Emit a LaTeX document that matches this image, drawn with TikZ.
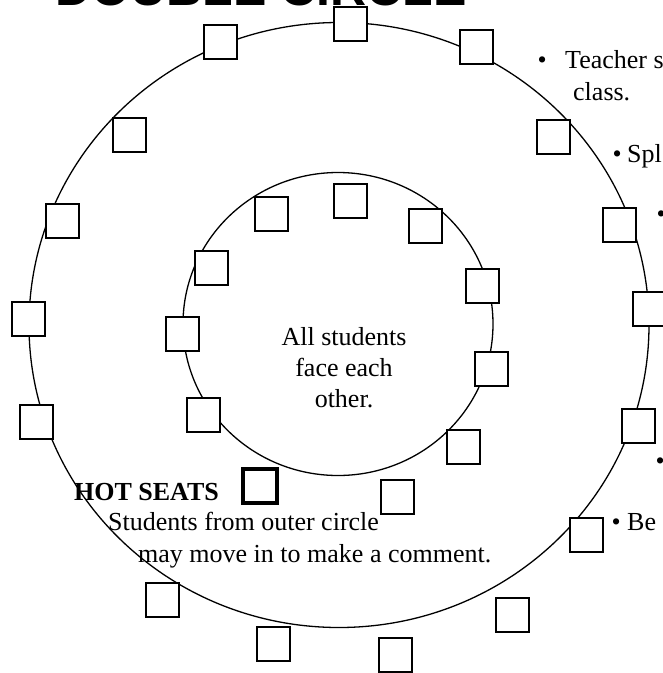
\documentclass[tikz,border=0pt]{standalone}
\usepackage{fontspec}
\setmainfont{Liberation Serif}
\newfontfamily\headfont{Liberation Sans}

\begin{document}
\begin{tikzpicture}[x=1pt, y=-1pt,
    seat/.style={rectangle, draw=black, fill=white, line width=2pt, minimum width=33pt, minimum height=34pt, inner sep=0pt},
    hotseat/.style={seat, line width=4pt, minimum width=34pt, minimum height=34pt},
    ring/.style={draw=black, line width=1.3pt},
    note/.style={font=\fontsize{26}{31}\selectfont, inner sep=0pt}]

    \useasboundingbox (0,0) rectangle (663,673);
    \clip (0,0) rectangle (663,673);

    % heading runs off the top of the page
    \node [anchor=base west, inner sep=0pt, font=\headfont\bfseries\fontsize{50}{50}\selectfont] (title) at (55.5,5) {DOUBLE CIRCLE};

    % outer and inner ring
    \draw [ring] (339,325) ellipse [x radius=310, y radius=302.5];
    \draw [ring] (338,324) ellipse [x radius=155, y radius=151.5];

    % outer circle seats
    \node [seat] (o1) at (350.5,24) {};
    \node [seat] (o2) at (220.5,42) {};
    \node [seat] (o3) at (476.5,47) {};
    \node [seat] (o4) at (129.5,135) {};
    \node [seat] (o5) at (553.5,137) {};
    \node [seat] (o6) at (62.5,221) {};
    \node [seat] (o7) at (619.5,225) {};
    \node [seat] (o8) at (28.5,319) {};
    \node [seat] (o9) at (649.5,309) {};
    \node [seat] (o10) at (36.5,422) {};
    \node [seat] (o11) at (638.5,426) {};
    \node [seat] (o12) at (586.5,535) {};
    \node [seat] (o13) at (512.5,615) {};
    \node [seat] (o14) at (395.5,655) {};
    \node [seat] (o15) at (273.5,644) {};
    \node [seat] (o16) at (162.5,600) {};

    % inner circle seats
    \node [seat] (i1) at (350.5,201) {};
    \node [seat] (i2) at (271.5,214) {};
    \node [seat] (i3) at (425.5,226) {};
    \node [seat] (i4) at (211.5,268) {};
    \node [seat] (i5) at (482.5,286) {};
    \node [seat] (i6) at (182.5,334) {};
    \node [seat] (i7) at (491.5,369) {};
    \node [seat] (i8) at (203.5,415) {};
    \node [seat] (i9) at (463.5,447) {};
    \node [seat] (i10) at (397.5,497) {};
    \node [hotseat] (hot) at (260,486) {};

    % texts
    \node [note, align=center, anchor=base] (face) at (344,407) {All students\\face each\\other.};
    \node [note, anchor=base east, font=\fontsize{26}{31}\selectfont\bfseries] (hotlabel) at (219,500) {HOT SEATS};
    \node [note, anchor=base west] (move1) at (108,530) {Students from outer circle};
    \node [note, anchor=base west] (move2) at (138,562) {may move in to make a comment.};

    % bullet list along the right edge
    \node [note, anchor=base west] (teach) at (537.5,68) {\makebox[27.5pt][l]{\textbullet}Teacher s};
    \node [note, anchor=base west] (teach2) at (573,100) {class.};
    \node [note, anchor=base west] (split) at (612.5,162) {\makebox[14.5pt][l]{\textbullet}Spl};
    \node [note, anchor=base west] (dot1) at (656.5,222) {\textbullet};
    \node [note, anchor=base west] (dot2) at (655.5,469) {\textbullet};
    \node [note, anchor=base west] (be) at (611.5,530) {\makebox[15.5pt][l]{\textbullet}Be};
\end{tikzpicture}
\end{document}
